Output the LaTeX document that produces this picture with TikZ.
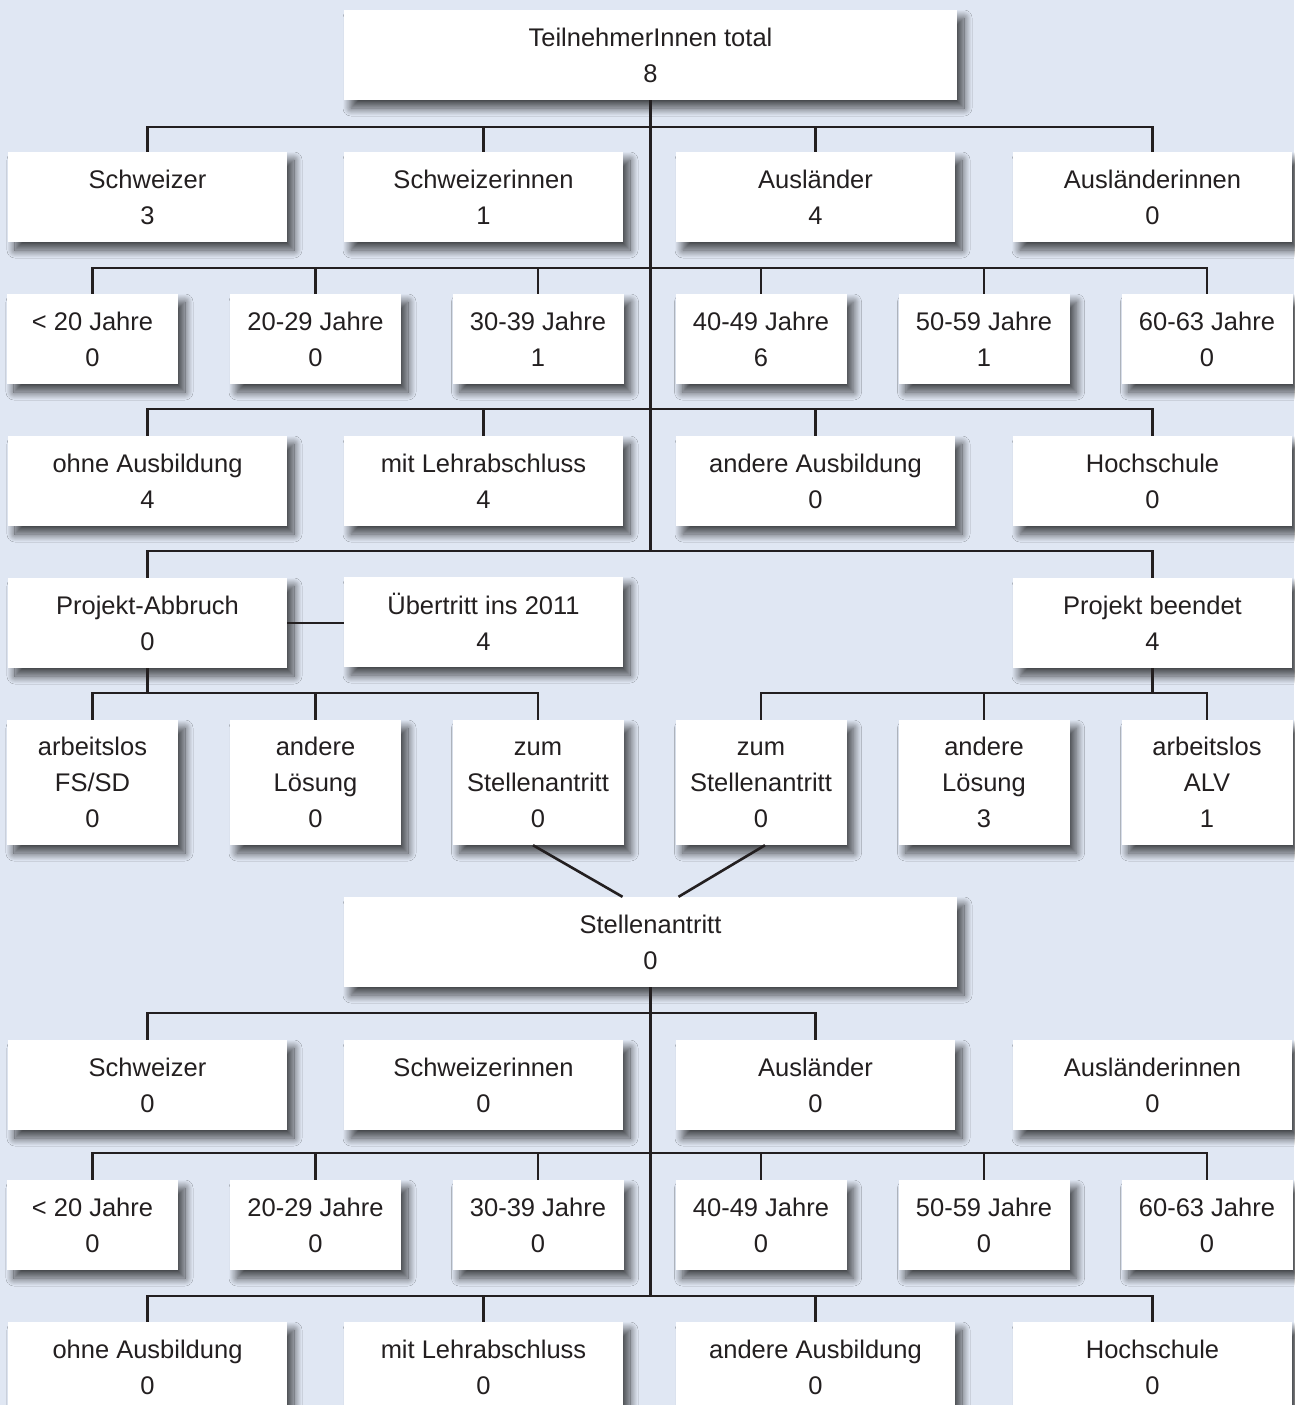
\documentclass[tikz,border=0pt]{standalone}
\usepackage{fontspec}
\setmainfont{Liberation Sans}
\usetikzlibrary{shadows.blur}
\definecolor{bg}{RGB}{224,231,243}
\definecolor{ink}{RGB}{35,31,32}
\tikzset{
  box/.style={draw=none, fill=white, inner sep=0pt, align=center,
    font=\fontsize{25.5}{36}\selectfont, text=ink,
    blur shadow={shadow xshift=7pt, shadow yshift=-8pt, shadow blur radius=8pt,
      shadow opacity=70, shadow blur steps=20}},
  widebox/.style={box, minimum width=613pt, minimum height=90pt},
  midbox/.style={box, minimum width=279pt, minimum height=90pt},
  smallbox/.style={box, minimum width=171pt, minimum height=90pt},
  tallbox/.style={box, minimum width=171pt, minimum height=125pt},
  conn/.style={draw=ink, line width=2.6pt},
}
\begin{document}
\begin{tikzpicture}[x=1pt,y=-1pt]
\fill[bg] (0,0) rectangle (1294,1405);
\useasboundingbox (0,0) rectangle (1294,1405);

% top
\node[widebox] (top) at (650.5,55) {TeilnehmerInnen total\\8};
% row 1
\node[midbox] (r1a) at (147.5,197) {Schweizer\\3};
\node[midbox] (r1b) at (483.5,197) {Schweizerinnen\\1};
\node[midbox] (r1c) at (815.5,197) {Ausländer\\4};
\node[midbox] (r1d) at (1152.5,197) {Ausländerinnen\\0};
% row 2
\node[smallbox] (r2a) at (92.5,339) {< 20 Jahre\\0};
\node[smallbox] (r2b) at (315.5,339) {20-29 Jahre\\0};
\node[smallbox] (r2c) at (538,339) {30-39 Jahre\\1};
\node[smallbox] (r2d) at (761,339) {40-49 Jahre\\6};
\node[smallbox] (r2e) at (984,339) {50-59 Jahre\\1};
\node[smallbox] (r2f) at (1207,339) {60-63 Jahre\\0};
% row 3
\node[midbox] (r3a) at (147.5,481) {ohne Ausbildung\\4};
\node[midbox] (r3b) at (483.5,481) {mit Lehrabschluss\\4};
\node[midbox] (r3c) at (815.5,481) {andere Ausbildung\\0};
\node[midbox] (r3d) at (1152.5,481) {Hochschule\\0};
% row 4
\node[midbox] (pa) at (147.5,623) {Projekt-Abbruch\\0};
\node[midbox] (ue) at (483.5,622) {Übertritt ins 2011\\4};
\node[midbox] (pb) at (1152.5,623) {Projekt beendet\\4};
% row 5
\node[tallbox] (r5a) at (92.5,782.5) {arbeitslos\\FS/SD\\0};
\node[tallbox] (r5b) at (315.5,782.5) {andere\\Lösung\\0};
\node[tallbox] (r5c) at (538,782.5) {\vphantom{h}zum\\Stellenantritt\\0};
\node[tallbox] (r5d) at (761,782.5) {\vphantom{h}zum\\Stellenantritt\\0};
\node[tallbox] (r5e) at (984,782.5) {andere\\Lösung\\3};
\node[tallbox] (r5f) at (1207,782.5) {arbeitslos\\ALV\\1};
% Stellenantritt
\node[widebox] (st) at (650.5,942) {Stellenantritt\\0};
% row 6
\node[midbox] (r6a) at (147.5,1085) {Schweizer\\0};
\node[midbox] (r6b) at (483.5,1085) {Schweizerinnen\\0};
\node[midbox] (r6c) at (815.5,1085) {Ausländer\\0};
\node[midbox] (r6d) at (1152.5,1085) {Ausländerinnen\\0};
% row 7
\node[smallbox] (r7a) at (92.5,1225) {< 20 Jahre\\0};
\node[smallbox] (r7b) at (315.5,1225) {20-29 Jahre\\0};
\node[smallbox] (r7c) at (538,1225) {30-39 Jahre\\0};
\node[smallbox] (r7d) at (761,1225) {40-49 Jahre\\0};
\node[smallbox] (r7e) at (984,1225) {50-59 Jahre\\0};
\node[smallbox] (r7f) at (1207,1225) {60-63 Jahre\\0};
% row 8
\node[midbox] (r8a) at (147.5,1367) {ohne Ausbildung\\0};
\node[midbox] (r8b) at (483.5,1367) {mit Lehrabschluss\\0};
\node[midbox] (r8c) at (815.5,1367) {andere Ausbildung\\0};
\node[midbox] (r8d) at (1152.5,1367) {Hochschule\\0};

% ---- connectors, upper tree
\draw[conn] (top.south) -- (top.south |- 0,551);
\draw[conn] (r1a.north) -- (r1a.north |- 0,127) -- (r1d.north |- 0,127) -- (r1d.north);
\foreach \n in {r1b,r1c} \draw[conn] (\n.north) -- (\n.north |- 0,127);
\draw[conn] (r2a.north) -- (r2a.north |- 0,268) -- (r2f.north |- 0,268) -- (r2f.north);
\foreach \n in {r2b,r2c,r2d,r2e} \draw[conn] (\n.north) -- (\n.north |- 0,268);
\draw[conn] (r3a.north) -- (r3a.north |- 0,409) -- (r3d.north |- 0,409) -- (r3d.north);
\foreach \n in {r3b,r3c} \draw[conn] (\n.north) -- (\n.north |- 0,409);
\draw[conn] (pa.north) -- (pa.north |- 0,551) -- (pb.north |- 0,551) -- (pb.north);
\draw[conn] (pa.east) -- (pa.east -| ue.west);
% row 5 left
\draw[conn] (pa.south) -- (pa.south |- 0,693);
\draw[conn] (r5a.north) -- (r5a.north |- 0,693) -- (r5c.north |- 0,693) -- (r5c.north);
\draw[conn] (r5b.north) -- (r5b.north |- 0,693);
% row 5 right
\draw[conn] (pb.south) -- (pb.south |- 0,693);
\draw[conn] (r5d.north) -- (r5d.north |- 0,693) -- (r5f.north |- 0,693) -- (r5f.north);
\draw[conn] (r5e.north) -- (r5e.north |- 0,693);
% diagonals
\draw[conn] ([xshift=-5pt]r5c.south) -- ([xshift=-28pt]st.north);
\draw[conn] ([xshift=4pt]r5d.south) -- ([xshift=28pt]st.north);

% ---- lower tree
\draw[conn] (st.south) -- (st.south |- 0,1296);
\draw[conn] (r6a.north) -- (r6a.north |- 0,1013) -- (r6c.north |- 0,1013) -- (r6c.north);
\draw[conn] (r7a.north) -- (r7a.north |- 0,1153) -- (r7f.north |- 0,1153) -- (r7f.north);
\foreach \n in {r7b,r7c,r7d,r7e} \draw[conn] (\n.north) -- (\n.north |- 0,1153);
\draw[conn] (r8a.north) -- (r8a.north |- 0,1296) -- (r8d.north |- 0,1296) -- (r8d.north);
\foreach \n in {r8b,r8c} \draw[conn] (\n.north) -- (\n.north |- 0,1296);
\end{tikzpicture}
\end{document}
